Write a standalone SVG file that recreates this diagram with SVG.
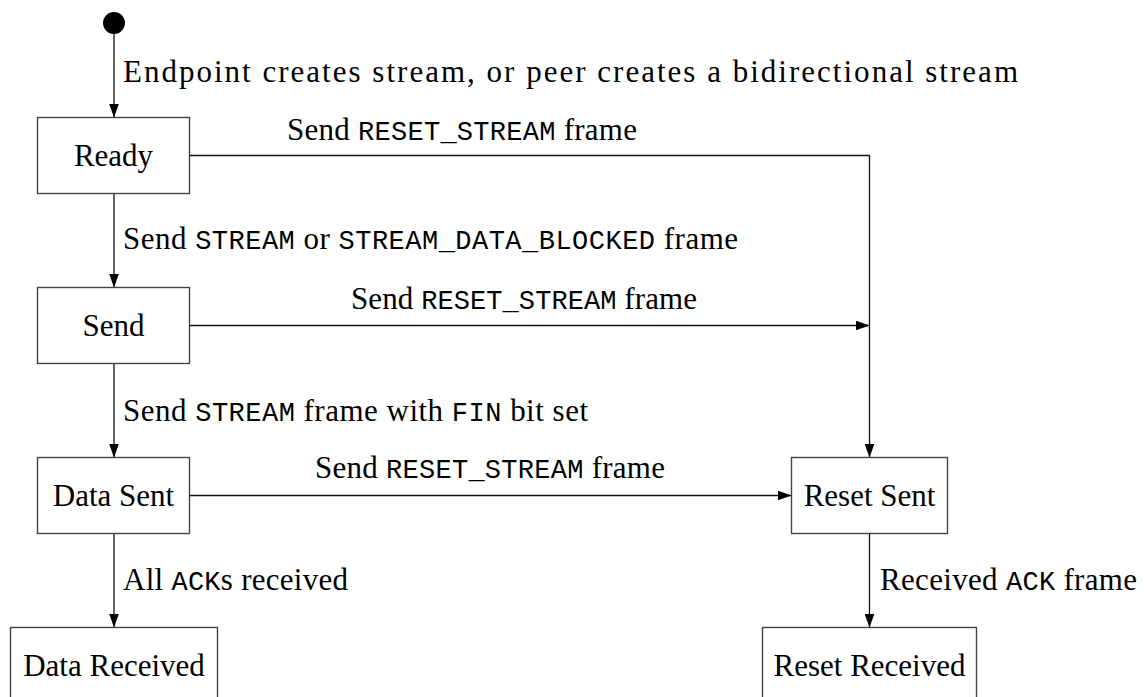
<svg xmlns="http://www.w3.org/2000/svg" width="1144" height="697" viewBox="0 0 1144 697">
  <style>
    .state rect { fill: #ffffff; stroke: #444444; stroke-width: 1.4; }
    .state text { font-family: "Liberation Serif", "DejaVu Serif", serif; font-size: 31px; fill: #000000; text-anchor: middle; }
    .edges path { fill: none; stroke: #111111; stroke-width: 1.3; }
    .label { font-family: "Liberation Serif", "DejaVu Serif", serif; font-size: 31px; fill: #000000; }
    .mono { font-family: "Liberation Mono", "DejaVu Sans Mono", monospace; font-size: 27px; }
  </style>
  <defs>
    <marker id="arrow" viewBox="0 0 14 10" refX="14" refY="5" markerWidth="14" markerHeight="10" markerUnits="userSpaceOnUse" orient="auto">
      <path d="M0,0 L14,5 L0,10 Z" fill="#000000"/>
    </marker>
  </defs>

  <rect width="1144" height="697" fill="#ffffff"/>

  <!-- initial pseudo-state -->
  <g id="start">
    <circle cx="114" cy="23" r="11" fill="#000000"/>
  </g>

  <!-- transitions -->
  <g class="edges">
    <path id="e-start-ready" d="M114,34 V117.5" marker-end="url(#arrow)"/>
    <path id="e-ready-send" d="M114,193.5 V287.5" marker-end="url(#arrow)"/>
    <path id="e-send-datasent" d="M114,363.5 V457.5" marker-end="url(#arrow)"/>
    <path id="e-datasent-datarecvd" d="M114,533.5 V627.5" marker-end="url(#arrow)"/>
    <path id="e-ready-resetsent" d="M189.5,155.5 H869.5 V457.5" marker-end="url(#arrow)"/>
    <path id="e-send-resetsent" d="M189.5,325.5 H869.5" marker-end="url(#arrow)"/>
    <path id="e-datasent-resetsent" d="M189.5,495.5 H791.5" marker-end="url(#arrow)"/>
    <path id="e-resetsent-resetrecvd" d="M869.5,533.5 V627.5" marker-end="url(#arrow)"/>
  </g>

  <!-- transition labels -->
  <g id="labels">
    <text class="label" x="123" y="82" font-size="32" textLength="895" lengthAdjust="spacing">Endpoint creates stream, or peer creates a bidirectional stream</text>
    <text class="label" x="462" y="140" text-anchor="middle" textLength="350" lengthAdjust="spacing">Send <tspan class="mono">RESET_STREAM</tspan> frame</text>
    <text class="label" x="123" y="249" textLength="615" lengthAdjust="spacing">Send <tspan class="mono">STREAM</tspan> or <tspan class="mono">STREAM_DATA_BLOCKED</tspan> frame</text>
    <text class="label" x="524" y="309" text-anchor="middle" textLength="346" lengthAdjust="spacing">Send <tspan class="mono">RESET_STREAM</tspan> frame</text>
    <text class="label" x="123" y="421" textLength="465" lengthAdjust="spacing">Send <tspan class="mono">STREAM</tspan> frame with <tspan class="mono">FIN</tspan> bit set</text>
    <text class="label" x="490" y="478" text-anchor="middle" textLength="350" lengthAdjust="spacing">Send <tspan class="mono">RESET_STREAM</tspan> frame</text>
    <text class="label" x="123" y="590" textLength="225" lengthAdjust="spacing">All <tspan class="mono">ACK</tspan>s received</text>
    <text class="label" x="880" y="590" textLength="257" lengthAdjust="spacing">Received <tspan class="mono">ACK</tspan> frame</text>
  </g>

  <!-- states -->
  <g id="ready" class="state">
    <rect x="37.5" y="117.5" width="152" height="76"/>
    <text x="113.5" y="166">Ready</text>
  </g>
  <g id="send" class="state">
    <rect x="37.5" y="287.5" width="152" height="76"/>
    <text x="113.5" y="336">Send</text>
  </g>
  <g id="data-sent" class="state">
    <rect x="37.5" y="457.5" width="152" height="76"/>
    <text x="113.5" y="506">Data Sent</text>
  </g>
  <g id="data-received" class="state">
    <rect x="10.5" y="627.5" width="207" height="80"/>
    <text x="114" y="676">Data Received</text>
  </g>
  <g id="reset-sent" class="state">
    <rect x="791.5" y="457.5" width="156" height="76"/>
    <text x="869.5" y="506">Reset Sent</text>
  </g>
  <g id="reset-received" class="state">
    <rect x="762.5" y="627.5" width="214" height="80"/>
    <text x="869.5" y="676">Reset Received</text>
  </g>
</svg>
